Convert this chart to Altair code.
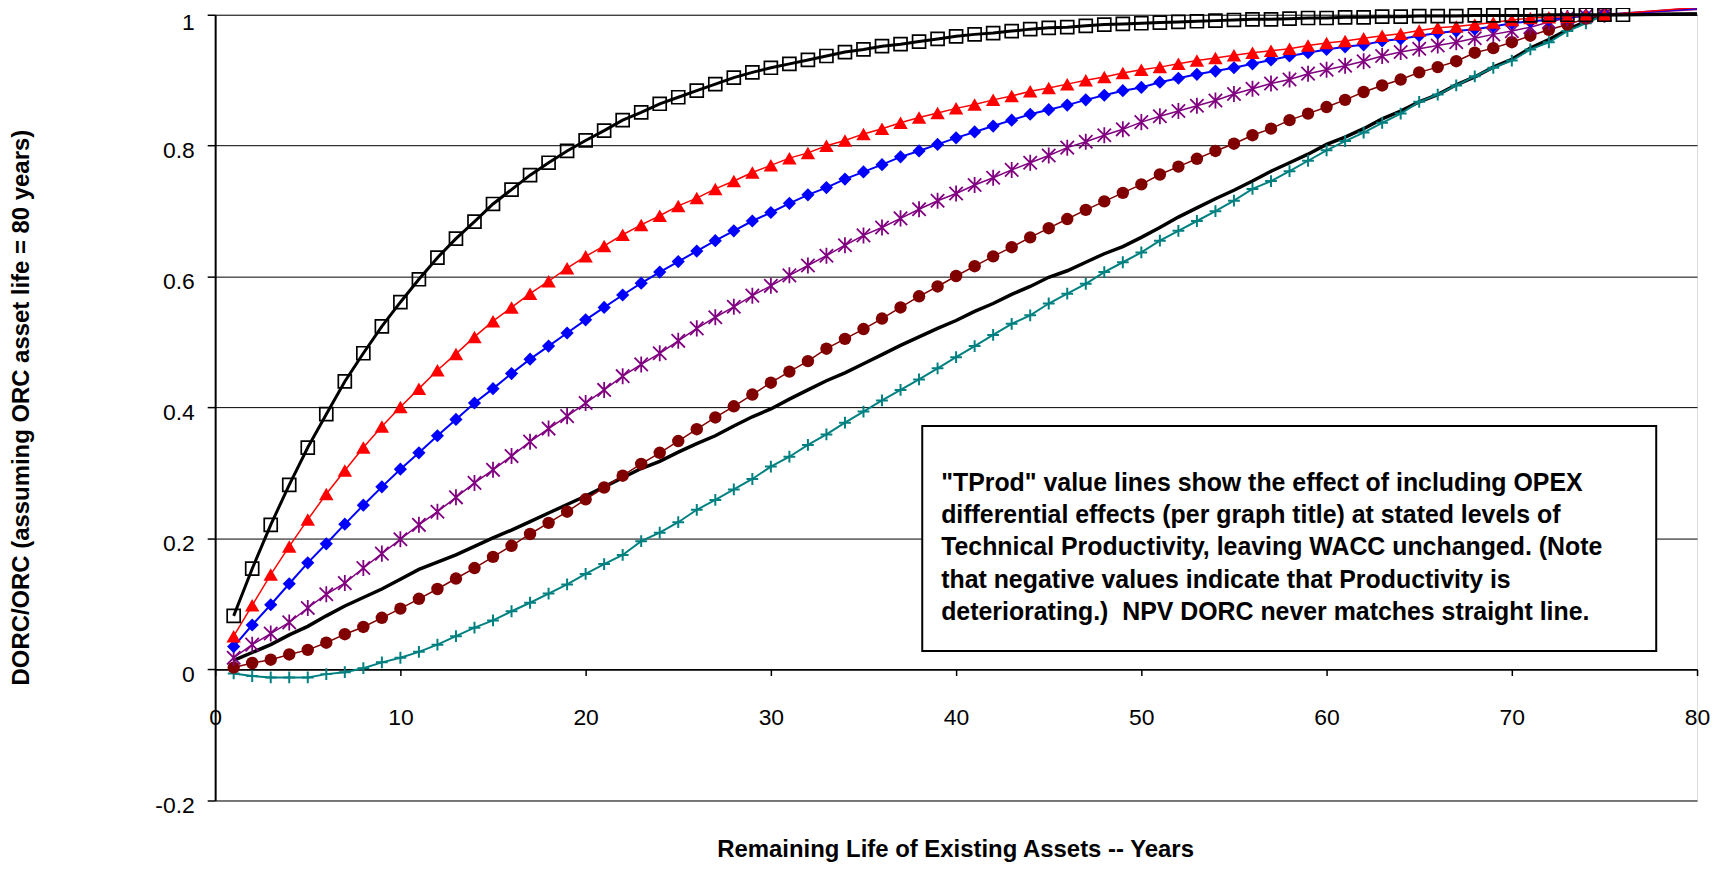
import altair as alt
import pandas as pd

F = "Liberation Sans, Arial, sans-serif"

years = list(range(1, 77))
tail_year = 80

sq_vals = [0.082, 0.154, 0.221, 0.282, 0.339, 0.390, 0.440, 0.483, 0.524, 0.561,
           0.596, 0.629, 0.658, 0.684, 0.711, 0.733, 0.755, 0.774, 0.792, 0.808,
           0.823, 0.839, 0.851, 0.864, 0.874, 0.884, 0.894, 0.904, 0.912, 0.919,
           0.925, 0.931, 0.937, 0.943, 0.947, 0.952, 0.955, 0.959, 0.963, 0.967,
           0.970, 0.972, 0.975, 0.978, 0.980, 0.981, 0.983, 0.985, 0.986, 0.987,
           0.988, 0.989, 0.990, 0.991, 0.992, 0.993, 0.993, 0.994, 0.995, 0.995,
           0.996, 0.996, 0.997, 0.997, 0.998, 0.998, 0.998, 0.999, 0.999, 0.999,
           0.999, 1.0, 1.0, 1.0, 1.0, 1.0]

red_vals = [0.051, 0.098, 0.145, 0.188, 0.229, 0.268, 0.304, 0.339, 0.371, 0.401,
            0.429, 0.457, 0.482, 0.508, 0.532, 0.553, 0.574, 0.593, 0.613, 0.631,
            0.647, 0.664, 0.679, 0.693, 0.708, 0.720, 0.734, 0.746, 0.759, 0.770,
            0.781, 0.789, 0.800, 0.808, 0.818, 0.826, 0.835, 0.843, 0.850, 0.857,
            0.863, 0.870, 0.876, 0.883, 0.888, 0.894, 0.900, 0.905, 0.911, 0.916,
            0.920, 0.925, 0.930, 0.934, 0.938, 0.942, 0.945, 0.948, 0.953, 0.957,
            0.960, 0.964, 0.968, 0.971, 0.976, 0.980, 0.982, 0.985, 0.988, 0.992,
            0.995, 0.996, 0.997, 1.0, 1.0]

blue_vals = [0.035, 0.068, 0.099, 0.131, 0.163, 0.192, 0.222, 0.251, 0.279, 0.306,
             0.331, 0.357, 0.382, 0.407, 0.429, 0.452, 0.474, 0.494, 0.514, 0.534,
             0.553, 0.572, 0.590, 0.607, 0.623, 0.639, 0.655, 0.670, 0.685, 0.698,
             0.712, 0.725, 0.736, 0.749, 0.760, 0.771, 0.783, 0.792, 0.802, 0.812,
             0.821, 0.830, 0.839, 0.848, 0.855, 0.862, 0.870, 0.877, 0.884, 0.889,
             0.897, 0.903, 0.909, 0.914, 0.919, 0.925, 0.931, 0.937, 0.942, 0.947,
             0.951, 0.954, 0.960, 0.963, 0.968, 0.972, 0.975, 0.978, 0.982, 0.987,
             0.990, 0.992, 0.996, 0.999, 1.0]

purple_vals = [0.018, 0.038, 0.055, 0.072, 0.094, 0.115, 0.132, 0.155, 0.177, 0.199,
               0.221, 0.241, 0.263, 0.285, 0.305, 0.326, 0.348, 0.368, 0.387, 0.407,
               0.427, 0.448, 0.466, 0.483, 0.502, 0.521, 0.538, 0.554, 0.571, 0.586,
               0.602, 0.617, 0.632, 0.648, 0.663, 0.675, 0.689, 0.703, 0.716, 0.727,
               0.740, 0.751, 0.763, 0.774, 0.785, 0.797, 0.806, 0.816, 0.825, 0.836,
               0.845, 0.853, 0.861, 0.869, 0.879, 0.887, 0.895, 0.901, 0.910, 0.916,
               0.922, 0.929, 0.937, 0.943, 0.948, 0.953, 0.958, 0.964, 0.970, 0.975,
               0.981, 0.989, 0.995, 0.998, 1.0]

darkred_vals = [0.003, 0.010, 0.015, 0.023, 0.030, 0.041, 0.054, 0.065, 0.079, 0.093,
                0.108, 0.123, 0.139, 0.155, 0.172, 0.189, 0.207, 0.224, 0.241, 0.260,
                0.278, 0.296, 0.314, 0.331, 0.349, 0.367, 0.385, 0.402, 0.420, 0.438,
                0.455, 0.471, 0.490, 0.505, 0.520, 0.536, 0.553, 0.570, 0.585, 0.601,
                0.616, 0.631, 0.645, 0.660, 0.674, 0.688, 0.702, 0.715, 0.728, 0.741,
                0.756, 0.768, 0.780, 0.792, 0.803, 0.816, 0.826, 0.839, 0.849, 0.859,
                0.870, 0.882, 0.892, 0.901, 0.912, 0.920, 0.929, 0.942, 0.949, 0.958,
                0.968, 0.977, 0.985, 0.994, 1.0]

teal_vals = [-0.006, -0.010, -0.012, -0.012, -0.012, -0.007, -0.004, 0.002, 0.011, 0.018,
             0.027, 0.038, 0.051, 0.064, 0.075, 0.089, 0.102, 0.116, 0.130, 0.146,
             0.161, 0.175, 0.196, 0.209, 0.225, 0.244, 0.259, 0.275, 0.291, 0.310,
             0.325, 0.343, 0.359, 0.377, 0.394, 0.411, 0.427, 0.443, 0.460, 0.477,
             0.494, 0.511, 0.528, 0.541, 0.559, 0.574, 0.589, 0.607, 0.622, 0.637,
             0.655, 0.670, 0.685, 0.700, 0.716, 0.734, 0.746, 0.761, 0.777, 0.793,
             0.807, 0.820, 0.835, 0.849, 0.867, 0.878, 0.892, 0.906, 0.919, 0.930,
             0.947, 0.958, 0.975, 0.987, 1.0]

npv_vals = [0.014, 0.026, 0.038, 0.053, 0.066, 0.082, 0.097, 0.110, 0.123, 0.138,
            0.153, 0.164, 0.175, 0.188, 0.201, 0.213, 0.226, 0.239, 0.252, 0.265,
            0.279, 0.293, 0.307, 0.318, 0.332, 0.345, 0.357, 0.372, 0.386, 0.398,
            0.413, 0.427, 0.441, 0.453, 0.467, 0.481, 0.495, 0.508, 0.521, 0.533,
            0.547, 0.559, 0.573, 0.585, 0.599, 0.609, 0.622, 0.635, 0.646, 0.660,
            0.675, 0.691, 0.705, 0.719, 0.732, 0.746, 0.761, 0.774, 0.787, 0.802,
            0.813, 0.826, 0.841, 0.853, 0.867, 0.878, 0.893, 0.905, 0.920, 0.932,
            0.949, 0.962, 0.977, 0.990, 1.0]

# line end values at year 80 (no marker)
tails = {"sq": 1.001, "red": 1.011, "blue": 1.010, "purple": 1.008, "npv": 1.001}

note_lines = [
    "\"TProd\" value lines show the effect of including OPEX",
    "differential effects (per graph title) at stated levels of",
    "Technical Productivity, leaving WACC unchanged. (Note",
    "that negative values indicate that Productivity is",
    "deteriorating.)\u00a0 NPV DORC never matches straight line.",
]

y_title = "DORC/ORC (assuming ORC asset life = 80 years)"
x_title = "Remaining Life of Existing Assets -- Years"

W, H = 1488, 789


def frame(name, vals):
    rows = [{"x": years[i], "y": v, "m": True} for i, v in enumerate(vals)]
    if name in tails:
        rows.append({"x": tail_year, "y": tails[name], "m": False})
    return pd.DataFrame(rows)


x_axis = alt.Axis(values=list(range(0, 81, 10)), grid=False, offset=-131.5,
                  domainColor="black", domainWidth=1.5, tickColor="black", tickWidth=1.5,
                  tickSize=6, labelFont=F, labelFontSize=23, labelColor="black",
                  labelBaseline="alphabetic", labelPadding=49, labelFlush=False,
                  title=x_title, titleFont=F, titleFontSize=24, titleFontWeight="bold",
                  titleColor="black", titleX=743, titleY=181, titleBaseline="middle",
                  titleAlign="center")
y_axis = alt.Axis(values=[-0.2, 0, 0.2, 0.4, 0.6, 0.8, 1], labelExpr="'' + datum.value",
                  grid=True, gridColor="black", gridWidth=1, domainColor="black",
                  domainWidth=2, tickColor="black", tickWidth=1.5, tickSize=8,
                  labelFont=F, labelFontSize=23, labelColor="black", labelPadding=13,
                  labelOffset={"condition": {"test": "datum.value == 1", "value": 8},
                               "value": 5},
                  labelBaseline="middle", labelFlush=False,
                  title=y_title, titleFont=F, titleFontSize=24, titleFontWeight="bold",
                  titleColor="black", titleX=-194, titleY=394, titleAngle=270,
                  titleAlign="center", titleBaseline="middle")

X = alt.X("x:Q", scale=alt.Scale(domain=[0, 80], nice=False, zero=False), axis=x_axis)
Y = alt.Y("y:Q", scale=alt.Scale(domain=[-0.2, 1], nice=False, zero=False), axis=y_axis)

ASTER = "M-1,-1L1,1M1,-1L-1,1M0,-1.2L0,1.2"
PLUS = "M-1,0L1,0M0,-1L0,1"

series = [
    # name, values, color, line width, shape, size, filled, marker stroke
    ("npv", npv_vals, "#000000", 3.5, None, 0, False, 0),
    ("teal", teal_vals, "#008080", 2, PLUS, 140, False, 2),
    ("darkred", darkred_vals, "#800000", 1.5, "circle", 155, True, 0),
    ("purple", purple_vals, "#800080", 1.5, ASTER, 180, False, 1.8),
    ("blue", blue_vals, "#0000FF", 2, "diamond", 175, True, 0),
    ("red", red_vals, "#FF0000", 1.5, "triangle-up", 210, True, 0),
    ("sq", sq_vals, "#000000", 3, "square", 170, False, 1.7),
]

layers = []
for name, vals, col, lw, shape, size, filled, msw in series:
    df = frame(name, vals)
    base = alt.Chart(df)
    layers.append(base.mark_line(color=col, strokeWidth=lw).encode(x=X, y=Y, order="x:Q"))
    if shape is not None:
        if filled:
            pm = base.mark_point(shape=shape, size=size, filled=True, color=col, opacity=1)
        else:
            pm = base.mark_point(shape=shape, size=size, filled=False, stroke=col,
                                 strokeWidth=msw, opacity=1)
        layers.append(pm.transform_filter("datum.m").encode(x=X, y=Y))

box_df = pd.DataFrame({"k": [0]})
box = alt.Chart(box_df).mark_rect(fill="white", stroke="black", strokeWidth=2).encode(
    x=alt.value(710), x2=alt.value(1447), y=alt.value(413), y2=alt.value(639))
note = alt.Chart(box_df).mark_text(
    align="left", baseline="alphabetic", font=F, fontSize=25, fontWeight="bold",
    color="black", lineHeight=32.4).encode(
    x=alt.value(729), y=alt.value(478), text=alt.value(note_lines))

chart = alt.layer(*layers, box, note).properties(
    width=W, height=H,
    padding={"left": 208, "top": 5, "right": 14, "bottom": 62},
    autosize=alt.AutoSizeParams(type="none"),
).configure_view(stroke="black", strokeWidth=2).configure(background="white")

chart.save("out.html", embed_options={"renderer": "svg", "actions": False})
